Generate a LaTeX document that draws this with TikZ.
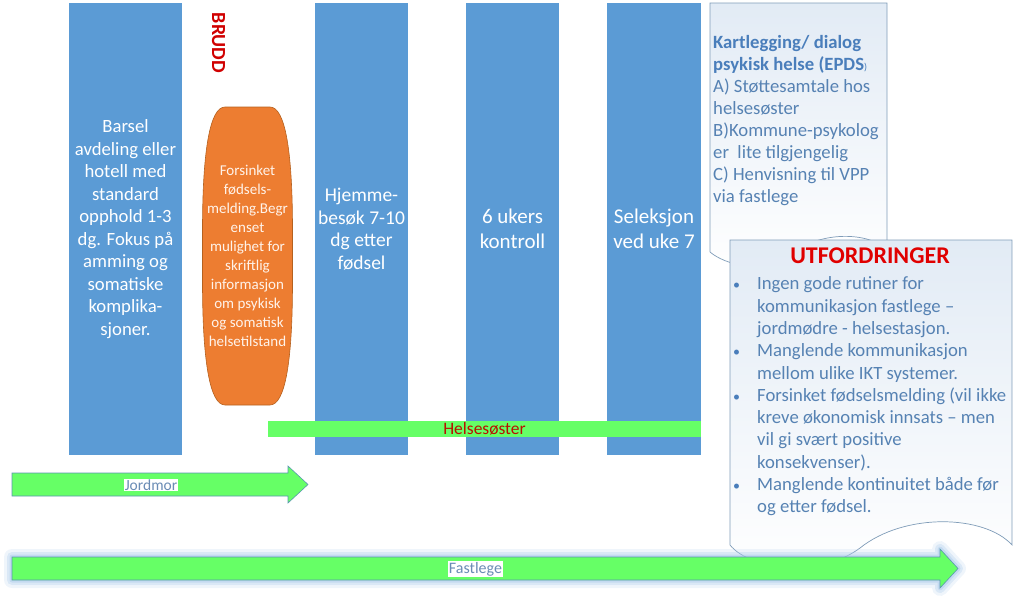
\documentclass[tikz,border=0pt]{standalone}
\usepackage{fontspec}
\setmainfont{Carlito}
\definecolor{barblue}{HTML}{5B9BD5}
\definecolor{lgreen}{HTML}{66FF66}
\definecolor{orangef}{HTML}{ED7D31}
\definecolor{oranged}{HTML}{B5611F}
\definecolor{orangetext}{HTML}{FFF3EA}
\definecolor{bruddred}{HTML}{D00000}
\definecolor{utred}{HTML}{E00000}
\definecolor{hsred}{HTML}{B81000}
\definecolor{doctext}{HTML}{5682B3}
\definecolor{doctitle}{HTML}{4A7EBB}
\definecolor{docborder}{HTML}{7F9CB8}
\definecolor{docfill}{HTML}{E2EBF5}
\definecolor{arrowborder}{HTML}{5A96B0}
\definecolor{glow}{HTML}{A9C9EA}
\definecolor{labeltext}{HTML}{6A8CB5}
\newcommand{\blt}{\makebox[24pt][l]{\color{doctitle}\fontsize{14}{14}\selectfont\textbullet}}
\begin{document}
\begin{tikzpicture}[x=1pt,y=-1pt,
  bar/.style={fill=barblue, draw=none, inner sep=0pt, minimum height=452pt,
    text=white, align=center},
  docshape/.style={draw=docborder, line width=0.7pt, top color=docfill, bottom color=white},
  greenarrow/.style={fill=lgreen, draw=arrowborder, line width=0.6pt, line join=miter},
  arrowlabel/.style={fill=white, text=labeltext, inner sep=1pt},
  doctxt/.style={inner sep=0pt, text=doctext, anchor=north west}
]
\useasboundingbox (0,0) rectangle (1021,600);

% columns
\node[bar, minimum width=113pt, font=\fontsize{18.7}{22.5}\selectfont] (barsel) at (125.5,229)
  {Barsel\\avdeling eller\\hotell med\\standard\\opphold 1-3\\dg. Fokus på\\amming og\\somatiske\\komplika-\\sjoner.};
\node[bar, minimum width=93pt, font=\fontsize{19.5}{22.5}\selectfont] (hjemme) at (361.5,229)
  {Hjemme-\\besøk 7-10\\dg etter\\fødsel};
\node[bar, minimum width=93pt, font=\fontsize{21}{25.5}\selectfont] (ukers) at (512.5,229)
  {6 ukers\\kontroll};
\node[bar, minimum width=94pt, font=\fontsize{21}{25.5}\selectfont] (seleksjon) at (654,229)
  {Seleksjon\\ved uke 7};

% BRUDD
\node[rotate=-90, text=bruddred, font=\bfseries\fontsize{20}{20}\selectfont, inner sep=0pt] (brudd) at (218.5,43) {BRUDD};

% orange rounded shape
\path[fill=orangef, draw=oranged, line width=0.6pt]
  (225,107) -- (270,107) .. controls (285,107) and (292.5,150) .. (292.5,230)
  -- (292.5,282) .. controls (292.5,362) and (285,405) .. (270,405)
  -- (225,405) .. controls (210,405) and (202.5,362) .. (202.5,282)
  -- (202.5,230) .. controls (202.5,150) and (210,107) .. (225,107) -- cycle;
\node[text=orangetext, align=center, inner sep=0pt, font=\fontsize{15}{19}\selectfont] (forsinket) at (247.5,256)
  {Forsinket\\fødsels-\\melding.Begr\\enset\\mulighet for\\skriftlig\\informasjon\\om psykisk\\og somatisk\\helsetilstand};

% Helsesøster bar
\node[fill=lgreen, draw=none, minimum width=433pt, minimum height=16pt, inner sep=0pt,
  text=hsred, font=\fontsize{17.5}{16}\selectfont] (helse) at (484.5,429) {Helsesøster};

% Jordmor arrow
\path[greenarrow] (12,473) -- (288,473) -- (288,466) -- (308,484.5) -- (288,503) -- (288,496) -- (12,496) -- cycle;
\node[arrowlabel, font=\fontsize{15.5}{17}\selectfont] (jordmor) at (151,485) {Jordmor};

% document 1
\path[docshape] (710,3) -- (887,3) -- (887,250)
  .. controls (870,232) and (820,230) .. (790,255)
  .. controls (765,275) and (725,265) .. (710,252) -- cycle;
\node[doctxt] (kart) at (713,33) {\fontsize{18.7}{22}\selectfont
  \begin{tabular}{@{}l@{}}
  {\color{doctitle}\bfseries Kartlegging/ dialog}\\
  {\color{doctitle}\bfseries psykisk helse (EPDS}{\color{doctitle}\fontsize{10}{10}\selectfont)}\\
  A) Støttesamtale hos\\
  helsesøster\\
  B)Kommune-psykolog\\
  er\ \ lite tilgjengelig\\
  C) Henvisning til VPP\\
  via fastlege
  \end{tabular}};

% document 2
\path[docshape] (730,240) -- (1012,240) -- (1012,545)
  .. controls (985,515) and (905,512) .. (860,548)
  .. controls (820,578) and (750,570) .. (730,545) -- cycle;
\node[text=utred, font=\bfseries\fontsize{24}{24}\selectfont, inner sep=0pt] (utf) at (870,256) {UTFORDRINGER};
\node[doctxt] (liste) at (733,274) {\fontsize{18.7}{22.3}\selectfont
  \begin{tabular}{@{}l@{}l@{}}
  \blt & Ingen gode rutiner for\\
  & kommunikasjon fastlege –\\
  & jordmødre - helsestasjon.\\
  \blt & Manglende kommunikasjon\\
  & mellom ulike IKT systemer.\\
  \blt & Forsinket fødselsmelding (vil ikke\\
  & kreve økonomisk innsats – men\\
  & vil gi svært positive\\
  & konsekvenser).\\
  \blt & Manglende kontinuitet både før\\
  & og etter fødsel.
  \end{tabular}};

% Fastlege arrow with glow
\def\fastpath{(12,557) -- (940,557) -- (940,549) -- (958,568.5) -- (940,588) -- (940,580) -- (12,580) -- cycle}
\path[draw=glow, line width=16pt, opacity=0.18, line join=round] \fastpath;
\path[draw=glow, line width=10pt, opacity=0.3, line join=round] \fastpath;
\path[draw=glow, line width=5pt, opacity=0.45, line join=round] \fastpath;
\path[greenarrow] \fastpath;
\node[arrowlabel, font=\fontsize{16}{17}\selectfont] (fastlege) at (475.5,569) {Fastlege};
\end{tikzpicture}
\end{document}
